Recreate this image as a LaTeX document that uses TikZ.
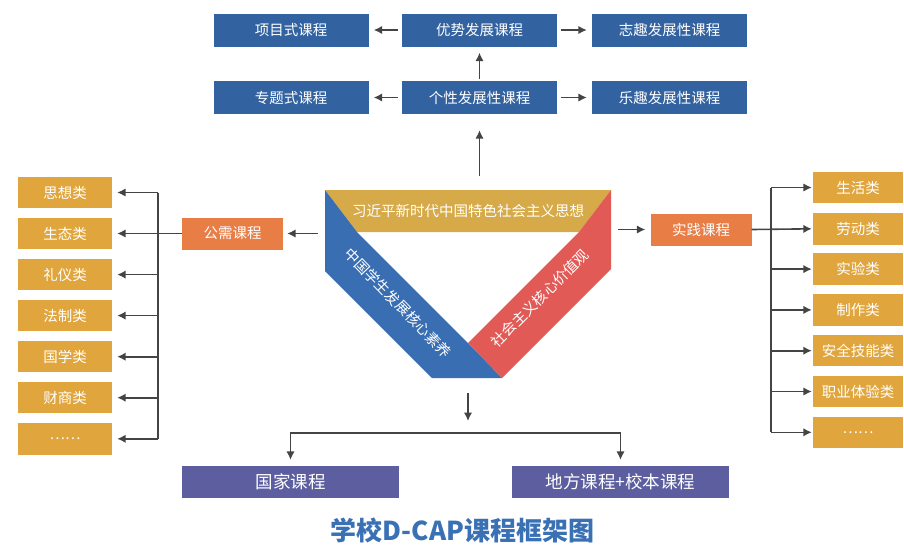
\documentclass[tikz,border=0pt]{standalone}
\usepackage{fontspec}
\setmainfont{Noto Sans CJK SC}
\usetikzlibrary{arrows.meta}
\definecolor{topblue}{HTML}{3262A0}
\definecolor{catgold}{HTML}{E0A53C}
\definecolor{orng}{HTML}{E87D46}
\definecolor{purp}{HTML}{5C5EA0}
\definecolor{trigold}{HTML}{D6AA48}
\definecolor{triblue}{HTML}{3A6EB2}
\definecolor{trired}{HTML}{E15A55}
\definecolor{titleblue}{HTML}{3A70B4}
\definecolor{arrowgray}{HTML}{444444}
\begin{document}
\begin{tikzpicture}[x=1pt,y=-1pt,
  box/.style={inner sep=0pt, text=white, font=\fontsize{14.5}{17}\selectfont},
  topbox/.style={box, fill=topblue, minimum width=155pt, minimum height=33pt},
  leftbox/.style={box, fill=catgold, minimum width=94pt, minimum height=31.5pt},
  rightbox/.style={box, fill=catgold, minimum width=90pt, minimum height=31.5pt},
  orangebox/.style={box, fill=orng, minimum width=101pt, minimum height=32pt},
  purplebox/.style={box, fill=purp, minimum width=217pt, minimum height=32pt, font=\fontsize{17.5}{20}\selectfont},
  tritext/.style={inner sep=0pt, text=white, font=\fontsize{14.5}{17}\selectfont},
  arr/.style={draw=arrowgray, line width=1.6pt, -{Latex[length=8.5pt,width=8.5pt]}},
  ln/.style={draw=arrowgray, line width=1.6pt}]
\fill[white] (0,0) rectangle (904,547);
\useasboundingbox (0,0) rectangle (904,547);

% top boxes
\node[topbox] (xm) at (291,30) {项目式课程};
\node[topbox] (ys) at (479.5,30) {优势发展课程};
\node[topbox] (zq) at (669.5,30) {志趣发展性课程};
\node[topbox] (zt) at (291,97.5) {专题式课程};
\node[topbox] (gx) at (479.5,97.5) {个性发展性课程};
\node[topbox] (lq) at (669.5,97.5) {乐趣发展性课程};
\draw[arr, shorten <=4pt, shorten >=5pt] (ys.west) -- (xm.east);
\draw[arr, shorten <=4pt, shorten >=5pt] (ys.east) -- (zq.west);
\draw[arr, shorten <=4pt, shorten >=5pt] (gx.west) -- (zt.east);
\draw[arr, shorten <=4pt, shorten >=5pt] (gx.east) -- (lq.west);
\draw[arr, shorten <=2pt, shorten >=6pt] (gx.north) -- (ys.south);

% triangle
\fill[trigold] (325,190) -- (611,190) -- (579,232) -- (357,232) -- cycle;
\fill[triblue] (325,190) -- (357,232) -- (468,343) -- (502,378) -- (432,378) -- (325,271) -- cycle;
\fill[trired] (611,190) -- (611,269) -- (502,378) -- (468,343) -- (579,232) -- cycle;
\node[tritext] (t1) at (468,211) {习近平新时代中国特色社会主义思想};
\node[tritext, rotate=-46] (t2) at (398,303) {中国学生发展核心素养};
\node[tritext, rotate=45] (t3) at (540,298) {社会主义核心价值观};

\coordinate (triT) at (479.5,176);
\coordinate (triL) at (318,233.5);
\coordinate (triR) at (618,229.5);
\coordinate (triB) at (468,393);
\draw[arr, shorten >=16pt] (triT) -- (gx.south);

% left side
\node[orangebox] (gxk) at (232.5,233.5) {公需课程};
\draw[arr, shorten >=4pt] (triL) -- (gxk.east);
\node[leftbox] (l1) at (65,192.5) {思想类};
\node[leftbox] (l2) at (65,233.5) {生态类};
\node[leftbox] (l3) at (65,274.6) {礼仪类};
\node[leftbox] (l4) at (65,315.6) {法制类};
\node[leftbox] (l5) at (65,356.7) {国学类};
\node[leftbox] (l6) at (65,397.7) {财商类};
\node[leftbox] (l7) at (65,438.8) {……};
\coordinate (lb) at (158,192.5);
\coordinate (lbe) at (158,438.8);
\draw[ln] (lb) -- (lbe);
\draw[arr, shorten >=5pt] (gxk.west) -- (l2.east);
\foreach \n in {l1,l3,l4,l5,l6,l7}
  \draw[arr, shorten >=5pt] (lb |- \n) -- (\n.east);

% right side
\node[orangebox] (sj) at (701,229.5) {实践课程};
\draw[arr, shorten >=5pt] (triR) -- (sj.west);
\node[rightbox] (r1) at (858,187.5) {生活类};
\node[rightbox] (r2) at (858,228.8) {劳动类};
\node[rightbox] (r3) at (858,269.1) {实验类};
\node[rightbox] (r4) at (858,309.9) {制作类};
\node[rightbox] (r5) at (858,350.7) {安全技能类};
\node[rightbox] (r6) at (858,391.5) {职业体验类};
\node[rightbox] (r7) at (858,432.3) {……};
\coordinate (rb) at (771,187.5);
\coordinate (rbe) at (771,432.3);
\draw[ln] (rb) -- (rbe);
\draw[arr, shorten >=1pt] (sj.east) -- (r2.west);
\foreach \n in {r1,r3,r4,r5,r6,r7}
  \draw[arr, shorten >=1pt] (rb |- \n) -- (\n.west);

% bottom
\node[purplebox] (gj) at (290.5,482) {国家课程};
\node[purplebox] (df) at (620.5,482) {地方课程+校本课程};
\coordinate (bbus) at (468,433);
\draw[arr, shorten >=12pt] (triB) -- (bbus);
\draw[arr, shorten >=6pt] (bbus) -| (gj.north);
\draw[arr, shorten >=6pt] (bbus) -| (df.north);

\node[inner sep=0pt, text=titleblue, font=\fontsize{26}{30}\selectfont\bfseries] (title) at (462.5,530) {学校D-CAP课程框架图};
\end{tikzpicture}
\end{document}
